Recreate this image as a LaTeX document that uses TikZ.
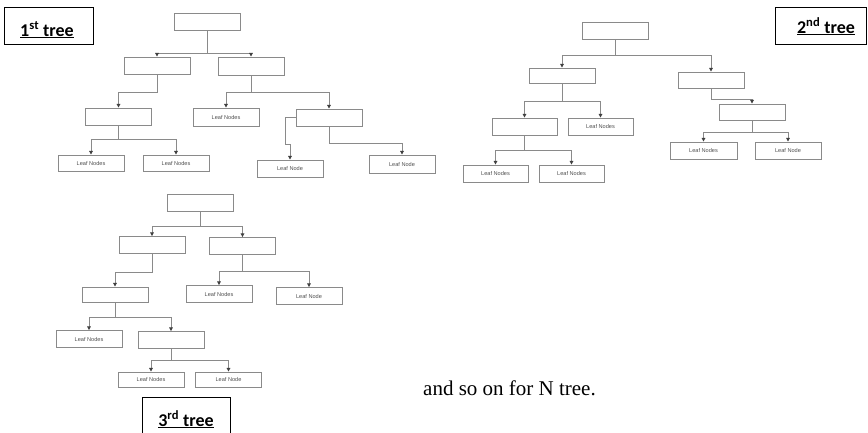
\documentclass[tikz,border=0pt]{standalone}
\usepackage{fontspec}
\setmainfont{Liberation Serif}
\newfontfamily\leaffont{Liberation Sans}
\newfontfamily\titlefont{Carlito}
\usetikzlibrary{arrows.meta}
\definecolor{boxgray}{HTML}{8A8A8A}
\definecolor{leaftext}{HTML}{505050}
\tikzset{
  tnode/.style={draw=boxgray, line width=0.9pt, inner sep=0pt,
    minimum width=66pt, minimum height=17pt,
    font=\leaffont\fontsize{5.6}{6}\selectfont, text=leaftext},
  link/.style={draw=boxgray, line width=0.9pt,
    -{Triangle[length=3.6pt,width=3.6pt,color=black!75]}},
  plain/.style={draw=boxgray, line width=0.9pt},
  tagbox/.style={draw=black, line width=1pt},
  tagtext/.style={anchor=base, inner sep=0pt,
    font=\titlefont\bfseries\fontsize{18}{20}\selectfont},
}
\newcommand{\treetag}[2]{\underline{#1\textsuperscript{#2} tree}}
\begin{document}
\begin{tikzpicture}[x=1pt, y=-1pt]
\useasboundingbox (0,0) rectangle (868,432);

% ---------- first tree ----------
\node[tnode] (a0) at (207,21.5) {};
\node[tnode] (a1) at (157,65.5) {};
\node[tnode, minimum height=18pt] (a2) at (251,66) {};
\node[tnode] (a3) at (118.5,116.5) {};
\node[tnode, minimum height=16pt] (a4) at (91,163) {Leaf Nodes};
\node[tnode, minimum height=16pt] (a5) at (176,163) {Leaf Nodes};
\node[tnode, minimum height=18pt] (a6) at (226,117) {Leaf Nodes};
\node[tnode] (a7) at (329,117.5) {};
\node[tnode] (a8) at (290,168.5) {Leaf Node};
\node[tnode, minimum height=18pt] (a9) at (402,164) {Leaf Node};

\draw[link] (a0.south) -- ++(0,22.5) -| (a1.north);
\draw[link] (a0.south) -- ++(0,22.5) -| (a2.north);
\draw[link] (a1.south) -- ++(0,18) -| (a3.north);
\draw[link] (a3.south) -- ++(0,14) -| (a4.north);
\draw[link] (a3.south) -- ++(0,14) -| (a5.north);
\draw[link] (a2.south) -- ++(0,17) -| (a6.north);
\draw[link] (a2.south) -- ++(0,17) -| (a7.north);
\draw[link] (a7.west) -- ++(-10,0) -- ++(0,27) -| (a8.north);
\draw[link] (a7.south) -- ++(0,17) -| (a9.north);

% ---------- second tree ----------
\node[tnode] (b0) at (615,30.5) {};
\node[tnode, minimum height=15pt] (b1) at (562,75.5) {};
\node[tnode, minimum height=16pt] (b2) at (711,80) {};
\node[tnode, minimum width=65pt] (b3) at (524.5,126.5) {};
\node[tnode, minimum width=65pt] (b4) at (600.5,126.5) {Leaf Nodes};
\node[tnode, minimum width=65pt] (b5) at (495.5,173.5) {Leaf Nodes};
\node[tnode, minimum width=65pt] (b6) at (571.5,173.5) {Leaf Nodes};
\node[tnode, minimum height=16pt] (b7) at (752,112) {};
\node[tnode, minimum width=67pt] (b8) at (703.5,150.5) {Leaf Nodes};
\node[tnode] (b9) at (788,150.5) {Leaf Node};

\draw[link] (b0.south) -- ++(0,16) -| (b1.north);
\draw[link] (b0.south) -- ++(0,16) -| (b2.north);
\draw[link] (b1.south) -- ++(0,18) -| (b3.north);
\draw[link] (b1.south) -- ++(0,18) -| (b4.north);
\draw[link] (b3.south) -- ++(0,15) -| (b5.north);
\draw[link] (b3.south) -- ++(0,15) -| (b6.north);
\draw[link] (b2.south) -- ++(0,11) -| (b7.north);
\draw[link] (b7.south) -- ++(0,12) -| (b8.north);
\draw[link] (b7.south) -- ++(0,12) -| (b9.north);

% ---------- third tree ----------
\begin{scope}[every node/.append style={minimum width=64pt, minimum height=16pt}]
\node[tnode] (c0) at (200.5,203) {};
\node[tnode] (c1) at (152,245) {};
\node[tnode] (c2) at (242.5,246) {};
\node[tnode, minimum height=15pt] (c3) at (115,294.5) {};
\node[tnode] (c4) at (89,339) {Leaf Nodes};
\node[tnode] (c5) at (171,340) {};
\node[tnode, minimum height=15pt] (c6) at (151,379.5) {Leaf Nodes};
\node[tnode, minimum height=15pt] (c7) at (228.5,379.5) {Leaf Node};
\node[tnode] (c8) at (219,294) {Leaf Nodes};
\node[tnode] (c9) at (309,296) {Leaf Node};
\end{scope}

\draw[link] (c0.south) -- ++(0,14) -| (c1.north);
\draw[link] (c0.south) -- ++(0,14) -| (c2.north);
\draw[link] (c1.south) -- ++(0,18) -| (c3.north);
\draw[link] (c3.south) -- ++(0,15) -| (c4.north);
\draw[link] (c3.south) -- ++(0,15) -| (c5.north);
\draw[link] (c5.south) -- ++(0,11) -| (c6.north);
\draw[link] (c5.south) -- ++(0,11) -| (c7.north);
\draw[link] (c2.south) -- ++(0,16) -| (c8.north);
\draw[link] (c2.south) -- ++(0,16) -| (c9.north);

% ---------- tree labels ----------
\draw[tagbox] (4,7) rectangle (93,44);
\node[tagtext] (t1) at (47,36) {\treetag{1}{st}};
\draw[tagbox] (775,7) rectangle (866,44);
\node[tagtext] (t2) at (826,33) {\treetag{2}{nd}};
\draw[tagbox] (142,397) rectangle (230,445);
\node[tagtext] (t3) at (186,426) {\treetag{3}{rd}};

% ---------- closing remark ----------
\node[anchor=base west, inner sep=0pt, font=\fontsize{21}{24}\selectfont]
  (more) at (423,395) {and so on for N tree.};
\end{tikzpicture}
\end{document}
